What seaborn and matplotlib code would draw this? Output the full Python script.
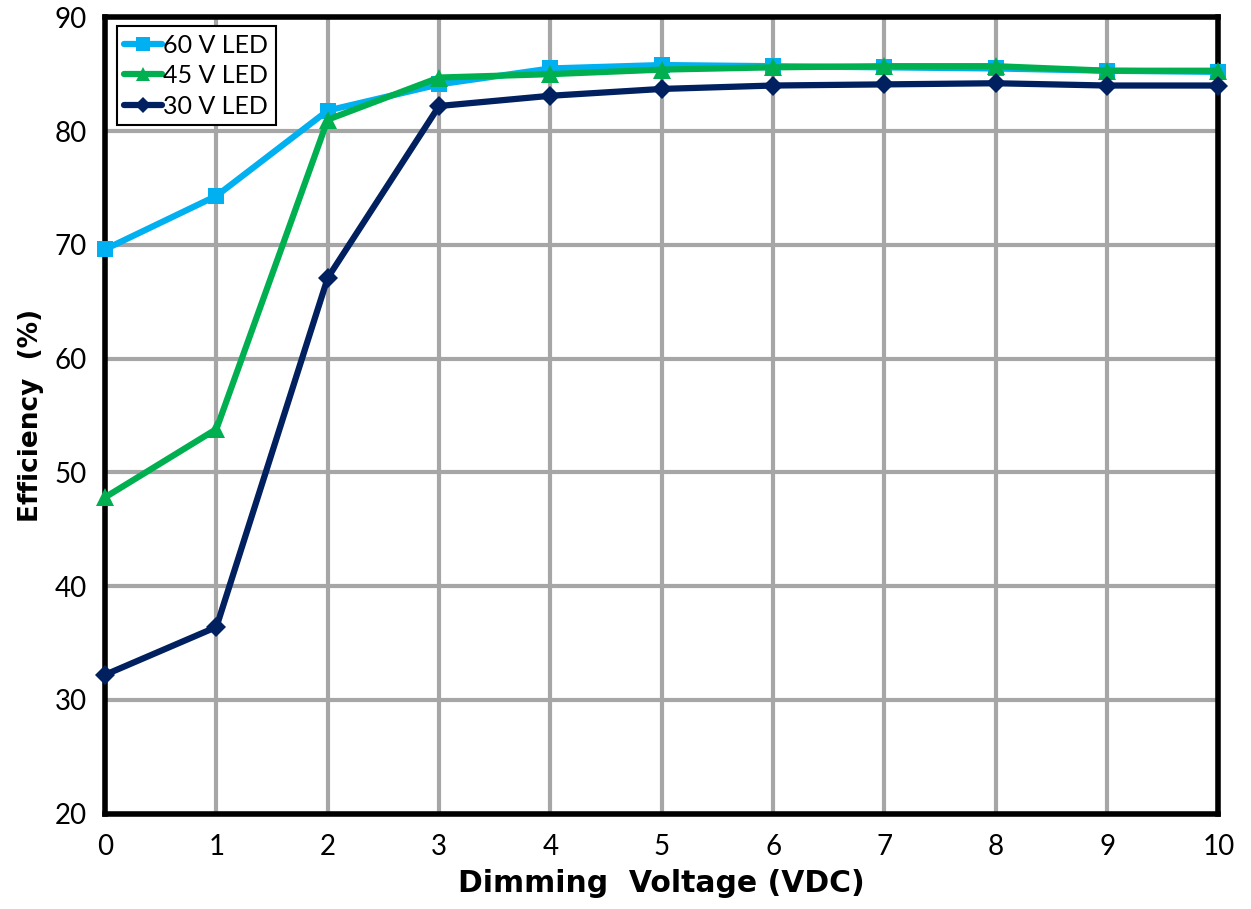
import matplotlib
matplotlib.use("Agg")
import matplotlib.pyplot as plt
import seaborn as sns
import pandas as pd

# Dimming voltage sweep (VDC)
dimming_v = [0, 1, 2, 3, 4, 5, 6, 7, 8, 9, 10]

# Efficiency (%) for each LED string voltage
eff_60v = [69.6, 74.3, 81.8, 84.1, 85.5, 85.8, 85.7, 85.6, 85.5, 85.3, 85.2]
eff_45v = [47.8, 53.8, 81.0, 84.7, 85.0, 85.4, 85.6, 85.7, 85.7, 85.3, 85.3]
eff_30v = [32.2, 36.4, 67.1, 82.2, 83.1, 83.7, 84.0, 84.1, 84.2, 84.0, 84.0]

series_names = ["60 V LED", "45 V LED", "30 V LED"]
x_ticks = list(range(0, 11))
y_ticks = [20, 30, 40, 50, 60, 70, 80, 90]

frames = []
for name, vals in zip(series_names, [eff_60v, eff_45v, eff_30v]):
    frames.append(pd.DataFrame({"Dimming": dimming_v, "Efficiency": vals, "Series": name}))
df = pd.concat(frames, ignore_index=True)

sns.set_theme(style="white")
plt.rcParams["font.family"] = ["Lato", "DejaVu Sans"]
plt.rcParams["text.color"] = "black"
plt.rcParams["axes.labelcolor"] = "black"

fig = plt.figure(figsize=(12.51, 9.09), dpi=100)
ax = fig.add_axes([0.084, 0.105, 0.890, 0.876])

palette = {"60 V LED": "#00B0F0", "45 V LED": "#00B050", "30 V LED": "#002060"}
markers = {"60 V LED": "s", "45 V LED": "^", "30 V LED": "D"}
msizes = {"60 V LED": 12, "45 V LED": 13, "30 V LED": 10}

for name in series_names:
    sub = df[df["Series"] == name]
    sns.lineplot(data=sub, x="Dimming", y="Efficiency", ax=ax, color=palette[name],
                 marker=markers[name], markersize=msizes[name], markeredgewidth=0,
                 linewidth=4.5, label=name, clip_on=False, zorder=3,
                 solid_capstyle="round")

ax.set_xlim(0, 10)
ax.set_ylim(20, 90)
ax.set_xticks(x_ticks)
ax.set_yticks(y_ticks)
ax.grid(True, color="#A6A6A6", linewidth=3)
ax.set_axisbelow(True)

for side in ["left", "bottom", "top", "right"]:
    ax.spines[side].set_visible(True)
    ax.spines[side].set_color("black")
    ax.spines[side].set_linewidth(4)

ax.tick_params(axis="both", direction="out", length=9, width=4, color="black",
               labelsize=20, labelcolor="black", pad=6)
ax.tick_params(axis="y", pad=4)

ax.set_xlabel("Dimming  Voltage (VDC)", family=["DejaVu Sans"], fontsize=21.5,
              fontweight="bold", labelpad=6, color="black")
ax.set_ylabel("Efficiency  (%)", family=["DejaVu Sans"], fontsize=19,
              fontweight="bold", labelpad=8, color="black")

leg = ax.legend(loc="upper left", bbox_to_anchor=(0.0105, 0.989), fontsize=18,
                frameon=True, fancybox=False, edgecolor="black", framealpha=1,
                handlelength=1.5, handletextpad=0.05, borderpad=0.3, labelspacing=0.3,
                borderaxespad=0, markerscale=0.8)
leg.get_frame().set_linewidth(1.5)
for text in leg.get_texts():
    text.set_color("black")

fig.savefig("out.png", dpi=100)
